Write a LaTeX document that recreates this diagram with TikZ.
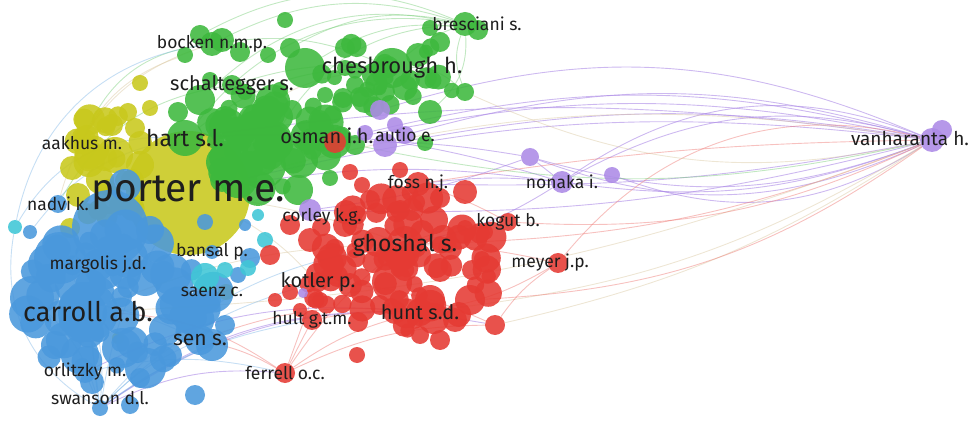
\documentclass[tikz,border=0pt]{standalone}
\usepackage{fontspec}
\setmainfont{Fira Sans}
\usetikzlibrary{positioning}
\definecolor{vosred}{HTML}{E53A33}
\definecolor{vosgreen}{HTML}{3DB83D}
\definecolor{vosblue}{HTML}{4A98DC}
\definecolor{vosyellow}{HTML}{C8C81C}
\definecolor{vospurple}{HTML}{AC8AE6}
\definecolor{voscyan}{HTML}{3FC6D6}
\definecolor{vostan}{HTML}{D9C7A0}
\definecolor{vosfg}{HTML}{1E1E1E}
\pgfdeclarelayer{bg}
\pgfsetlayers{bg,main}

\begin{document}
\begin{tikzpicture}[x=1pt,y=-1pt]
  \tikzstyle{dot}=[circle, inner sep=0pt, draw=none, fill opacity=0.88]
  \tikzstyle{rdot}=[dot, fill=vosred]
  \tikzstyle{gdot}=[dot, fill=vosgreen]
  \tikzstyle{bdot}=[dot, fill=vosblue]
  \tikzstyle{ydot}=[dot, fill=vosyellow]
  \tikzstyle{pdot}=[dot, fill=vospurple]
  \tikzstyle{cdot}=[dot, fill=voscyan]
  \tikzstyle{edge}=[line width=0.9pt, draw opacity=0.45]
  \tikzstyle{redge}=[edge, draw=vosred!70]
  \tikzstyle{gedge}=[edge, draw=vosgreen!70]
  \tikzstyle{bedge}=[edge, draw=vosblue!70]
  \tikzstyle{pedge}=[edge, draw=vospurple, draw opacity=0.6]
  \tikzstyle{tedge}=[edge, draw=vostan]
  \tikzstyle{lab}=[font=\fontsize{17.5}{17.5}\selectfont, text=vosfg, inner sep=0pt]
  \tikzstyle{labm}=[lab, font=\fontsize{20}{20}\selectfont]
  \tikzstyle{labl}=[lab, font=\fontsize{23}{23}\selectfont]
  \tikzstyle{labxl}=[lab, font=\fontsize{39}{39}\selectfont]

  \path[use as bounding box] (0,0) rectangle (973,427);
  \pgfmathsetseed{11}

  % yellow cluster
  \foreach \i in {1,...,26}{
    \pgfmathsetmacro\ang{rnd*360}\pgfmathsetmacro\dst{sqrt(rnd)}\pgfmathsetmacro\rad{8+8*rnd}
    \node[ydot, minimum size=2*\rad pt] (yy\i) at ({108+45*\dst*cos(\ang)},{170+62*\dst*sin(\ang)}) {};
  }
  \foreach \x/\y/\r [count=\i] in {140/83/8,128/112/9,150/108/8,112/125/11,135/128/10,95/150/14,72/168/12,78/195/12,115/155/18,140/165/14,70/228/10,100/180/14,118/338/6}
    \node[ydot, minimum size=2*\r pt] (y\i) at (\x,\y) {};
  \node[ydot, minimum size=124pt] (porter) at (188,193) {};
  \node[ydot, minimum size=22pt] (aakhus) at (82,143) {};
  \node[ydot, minimum size=16pt] (saenz) at (226,292) {};

  % blue cluster
  \foreach \i in {1,...,60}{
    \pgfmathsetmacro\ang{rnd*360}\pgfmathsetmacro\dst{sqrt(rnd)}\pgfmathsetmacro\rad{8+13*rnd}
    \node[bdot, minimum size=2*\rad pt] (bb\i) at ({115+100*\dst*cos(\ang)},{300+78*\dst*sin(\ang)}) {};
  }
  \foreach \x/\y/\r [count=\i] in {110/228/38,60/258/26,32/298/22,145/278/18,122/348/20,165/330/16,195/318/12,212/345/16,55/345/14,92/382/12,140/378/10,195/395/10,130/405/9,250/258/10,238/275/8,128/258/20,180/300/10,30/232/7,225/325/10,62/318/18,150/230/14,170/355/12,75/285/20,245/225/6,205/222/8,125/185/16}
    \node[bdot, minimum size=2*\r pt] (b\i) at (\x,\y) {};
  \node[bdot, minimum size=60pt] (carroll) at (88,312) {};
  \node[bdot, minimum size=32pt] (margolis) at (98,265) {};
  \node[bdot, minimum size=30pt] (sen) at (200,340) {};
  \node[bdot, minimum size=22pt] (orlitzky) at (85,372) {};
  \node[bdot, minimum size=18pt] (nadvi) at (58,204) {};
  \node[bdot, minimum size=16pt] (swanson) at (100,408) {};
  \node[bdot, minimum size=14pt] (bansal) at (212,252) {};
  \foreach \x/\y/\r [count=\i] in {15/227/7,205/277/14,265/240/8,248/268/8,225/270/8,258/215/6}
    \node[cdot, minimum size=2*\r pt] (c\i) at (\x,\y) {};

  % green cluster
  \foreach \i in {1,...,50}{
    \pgfmathsetmacro\ang{rnd*360}\pgfmathsetmacro\dst{sqrt(rnd)}\pgfmathsetmacro\rad{8+11*rnd}
    \node[gdot, minimum size=2*\rad pt] (gg\i) at ({272+72*\dst*cos(\ang)},{140+50*\dst*sin(\ang)}) {};
  }
  \foreach \i in {1,...,26}{
    \pgfmathsetmacro\ang{rnd*360}\pgfmathsetmacro\dst{sqrt(rnd)}\pgfmathsetmacro\rad{6+7*rnd}
    \node[gdot, minimum size=2*\rad pt] (gh\i) at ({385+75*\dst*cos(\ang)},{75+35*\dst*sin(\ang)}) {};
  }
  \foreach \x/\y/\r [count=\i] in {200/35/10,222/40/12,240/52/10,185/55/8,268/55/8,290/48/10,305/68/20,345/48/10,345/68/8,418/55/12,440/42/10,478/30/10,465/92/9,325/95/8,343/98/10,365/100/13,385/92/10,430/112/12,200/100/15,225/118/12,252/125/14,272/140/20,262/165/24,300/160/18,298/190/15,236/150/12,178/112/10,292/110/10,330/178/8,355/145/10,425/143/8,280/90/8,245/92/8,210/80/8,320/120/10,355/85/9,410/80/10,250/165/14,222/180/12,285/20/8,430/28/8}
    \node[gdot, minimum size=2*\r pt] (g\i) at (\x,\y) {};
  \node[gdot, minimum size=36pt] (hart) at (185,138) {};
  \node[gdot, minimum size=40pt] (chesbrough) at (392,68) {};
  \node[gdot, minimum size=24pt] (bocken) at (212,44) {};
  \node[gdot, minimum size=20pt] (schaltegger) at (232,85) {};
  \node[gdot, minimum size=24pt] (bresciani) at (465,24) {};

  % red cluster
  \foreach \i in {1,...,75}{
    \pgfmathsetmacro\ang{rnd*360}\pgfmathsetmacro\dst{sqrt(rnd)}\pgfmathsetmacro\rad{7+9*rnd}
    \node[rdot, minimum size=2*\rad pt] (rr\i) at ({400+100*\dst*cos(\ang)},{262+72*\dst*sin(\ang)}) {};
  }
  \foreach \x/\y/\r [count=\i] in {310/240/12,290/225/10,345/225/12,378/242/15,392/282/20,422/232/12,440/198/10,465/192/12,450/248/12,472/270/10,430/300/15,470/300/15,495/325/10,440/340/10,358/322/10,320/300/8,290/292/8,357/355/8,485/232/8,400/210/10,370/200/10,330/262/10,270/255/10,275/300/7,350/285/12,455/320/12,420/335/9,380/305/10,405/255/14,440/270/12,362/185/8,350/172/8,400/170/8,465/228/8,300/310/7}
    \node[rdot, minimum size=2*\r pt] (r\i) at (\x,\y) {};
  \node[rdot, minimum size=22pt] (osman) at (335,142) {};
  \node[rdot, minimum size=24pt] (foss) at (418,184) {};
  \node[rdot, minimum size=36pt] (ghoshal) at (405,244) {};
  \node[rdot, minimum size=18pt] (kogut) at (508,222) {};
  \node[rdot, minimum size=20pt] (meyer) at (558,263) {};
  \node[rdot, minimum size=20pt] (kotler) at (318,282) {};
  \node[rdot, minimum size=20pt] (hult) at (312,320) {};
  \node[rdot, minimum size=28pt] (hunt) at (420,312) {};
  \node[rdot, minimum size=20pt] (ferrell) at (285,373) {};

  % purple cluster
  \foreach \x/\y/\r [count=\i] in {380/110/10,365/133/8,385/145/12,530/157/9,612/175/8,942/130/10,303/293/5,395/125/8}
    \node[pdot, minimum size=2*\r pt] (p\i) at (\x,\y) {};
  \node[pdot, minimum size=18pt] (autio) at (405,135) {};
  \node[pdot, minimum size=22pt] (corley) at (310,210) {};
  \node[pdot, minimum size=22pt] (nonaka) at (562,182) {};
  \node[pdot, minimum size=24pt] (vanharanta) at (932,140) {};

  % links
  \begin{pgfonlayer}{bg}
    \foreach \a/\b/\k/\t in {vanharanta/osman/pedge/12, vanharanta/autio/pedge/16, vanharanta/p1/pedge/20, vanharanta/nonaka/pedge/28, vanharanta/nonaka/pedge/22, vanharanta/p4/pedge/-22, vanharanta/p5/pedge/-26, vanharanta/p4/pedge/-18, vanharanta/corley/pedge/-8, vanharanta/p3/pedge/10, vanharanta/nonaka/pedge/-14, vanharanta/p2/pedge/14, vanharanta/hart/pedge/8, vanharanta/porter/pedge/10, vanharanta/foss/pedge/-6, p4/nonaka/pedge/0, nonaka/porter/pedge/8, nonaka/hart/pedge/10, p4/corley/pedge/-6, p4/osman/pedge/5, nonaka/ghoshal/pedge/-10, nonaka/foss/pedge/6,
                          vanharanta/ghoshal/redge/-10, vanharanta/hunt/tedge/-12, vanharanta/r13/tedge/-10, vanharanta/carroll/tedge/-9, vanharanta/foss/redge/4, vanharanta/kogut/redge/-14, meyer/vanharanta/redge/-32, vanharanta/g13/tedge/-18, vanharanta/g30/gedge/-12, vanharanta/porter/tedge/12, vanharanta/r12/redge/-16,
                          g1/bresciani/gedge/-25, hart/bresciani/gedge/-30, g7/g12/gedge/-20, bocken/chesbrough/gedge/-15, schaltegger/chesbrough/gedge/-10, chesbrough/g13/gedge/-20, bresciani/g18/gedge/-25, g41/bresciani/gedge/-15, bresciani/g13/gedge/20, bresciani/chesbrough/gedge/10, hart/chesbrough/gedge/-18, g23/bresciani/gedge/-30, porter/chesbrough/tedge/-22, g19/g12/gedge/-30, g6/bresciani/gedge/-20, bocken/bresciani/gedge/-22,
                          aakhus/bocken/gedge/-30, c1/bocken/bedge/-35, nadvi/schaltegger/gedge/-25, b18/hart/bedge/-20, y7/g4/tedge/-25, c1/hart/bedge/-30, nadvi/bocken/tedge/-28,
                          swanson/carroll/bedge/0, swanson/sen/bedge/-10, swanson/orlitzky/bedge/0, swanson/margolis/bedge/-8, swanson/porter/bedge/-10, swanson/ferrell/pedge/-15, swanson/hunt/pedge/-18, swanson/ghoshal/bedge/-20, swanson/b3/bedge/15, swanson/b2/bedge/18, c1/swanson/bedge/35, swanson/r13/pedge/-22, swanson/kotler/bedge/-14, swanson/b8/bedge/-6, b3/sen/bedge/-10, orlitzky/hunt/pedge/-15, orlitzky/ferrell/bedge/-12, swanson/hult/bedge/-12,
                          ferrell/hunt/redge/-10, ferrell/ghoshal/redge/-8, ferrell/kotler/redge/0, ferrell/hult/redge/0, ferrell/sen/redge/8, ferrell/carroll/redge/15, meyer/ghoshal/redge/5, meyer/hunt/redge/-10, kogut/foss/redge/5, kogut/ghoshal/redge/8, r13/kotler/redge/10, hult/hunt/redge/-6, kotler/porter/tedge/8, hunt/sen/redge/12, ghoshal/carroll/tedge/10, porter/ghoshal/tedge/-5, r13/meyer/redge/-10, ferrell/r13/redge/-12}
      \draw[\k] (\a) to[bend right=\t] (\b);
  \end{pgfonlayer}

  % labels
  \node[labxl] at (porter) {porter m.e.};
  \node[lab, font=\fontsize{27}{27}\selectfont] at (carroll) {carroll a.b.};
  \node[lab, font=\fontsize{22}{22}\selectfont] at (chesbrough) {chesbrough h.};
  \node[labl] at ([yshift=-1pt]ghoshal) {ghoshal s.};
  \node[labl] at (hart) {hart s.l.};
  \node[lab, font=\fontsize{21}{21}\selectfont] at (sen) {sen s.};
  \node[labm] at (schaltegger) {schaltegger s.};
  \node[labm] at ([xshift=-8pt,yshift=6pt]osman) {osman i.h.};
  \node[labm] at (kotler) {kotler p.};
  \node[labm] at (hunt) {hunt s.d.};
  \node[lab] at (bocken) {bocken n.m.p.};
  \node[lab] at ([xshift=12pt]bresciani) {bresciani s.};
  \node[lab] at (aakhus) {aakhus m.};
  \node[lab] at (autio) {autio e.};
  \node[lab] at (foss) {foss n.j.};
  \node[lab] at ([xshift=12pt,yshift=-7pt]corley) {corley k.g.};
  \node[lab] at (nadvi) {nadvi k.};
  \node[lab] at (kogut) {kogut b.};
  \node[lab] at ([xshift=-8pt]meyer) {meyer j.p.};
  \node[lab] at (nonaka) {nonaka i.};
  \node[lab, font=\fontsize{19}{19}\selectfont] at ([xshift=-22pt,yshift=1pt]vanharanta) {vanharanta h.};
  \node[lab] at (margolis) {margolis j.d.};
  \node[lab] at (bansal) {bansal p.};
  \node[lab] at ([xshift=-14pt]saenz) {saenz c.};
  \node[lab] at (hult) {hult g.t.m.};
  \node[lab] at (orlitzky) {orlitzky m.};
  \node[lab] at (ferrell) {ferrell o.c.};
  \node[lab] at ([yshift=10pt]swanson) {swanson d.l.};
\end{tikzpicture}
\end{document}
